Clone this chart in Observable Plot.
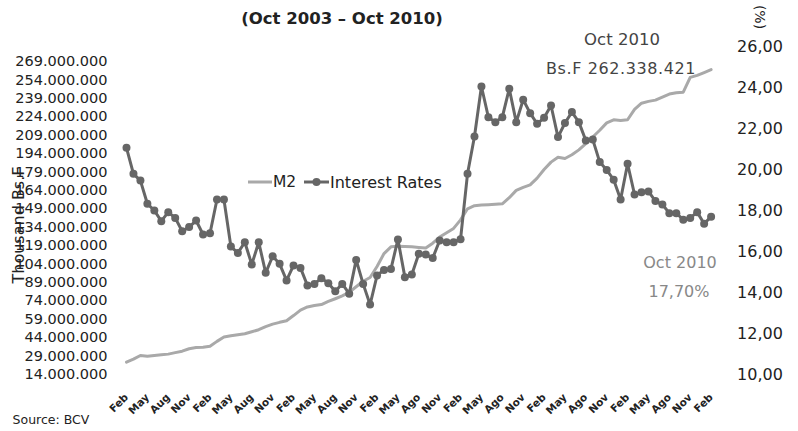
<!DOCTYPE html>
<html><head><meta charset="utf-8">
<script src="https://cdn.jsdelivr.net/npm/d3@7"></script>
<script src="https://cdn.jsdelivr.net/npm/@observablehq/plot@0.6"></script>
<style>
html,body{margin:0;padding:0;background:#fff;}
#chart{position:relative;width:798px;height:431px;overflow:hidden;font-family:"DejaVu Sans",sans-serif;color:#222;}
#chart svg.plot{position:absolute;left:0;top:0;}
.t{position:absolute;white-space:nowrap;line-height:1;}
</style></head><body>
<div id="chart"></div>
<script>
// Monthly data, Oct 2003 .. Oct 2010 (85 months)
// M2 in millions of thousand Bs.F
const m2Millions = [
  24.0, 26.5, 29.5, 28.8, 29.5, 30.0, 30.6, 31.8, 33.0, 35.0,
  36.0, 36.2, 37.0, 41.0, 44.5, 45.5, 46.3, 47.2, 48.8, 50.5,
  53.0, 55.0, 56.5, 57.8, 62.0, 66.5, 69.0, 70.2, 71.0, 73.5,
  75.7, 78.0, 81.0, 85.5, 90.0, 93.0, 102.0, 112.5, 118.0, 118.5,
  118.3, 118.0, 117.5, 117.0, 121.0, 126.0, 129.5, 133.0, 140.0, 149.0,
  151.5, 152.0, 152.3, 152.6, 153.0, 158.0, 164.0, 166.5, 168.5, 174.0,
  181.0, 187.0, 191.0, 190.0, 193.0, 197.0, 202.0, 207.5, 213.0, 219.0,
  221.5, 221.0, 221.5, 230.0, 235.0, 236.5, 237.5, 240.0, 242.5, 243.5,
  244.0, 256.0, 257.7, 260.0, 262.338421
];
// Interest rates (%)
const rates = [
  21.06, 19.79, 19.46, 18.33, 18.00, 17.48, 17.92, 17.64, 16.99, 17.19,
  17.51, 16.83, 16.89, 18.54, 18.54, 16.24, 15.93, 16.45, 15.37, 16.45,
  14.96, 15.77, 15.40, 14.59, 15.32, 15.20, 14.34, 14.42, 14.70, 14.45,
  14.06, 14.42, 13.94, 15.59, 14.42, 13.41, 14.83, 15.10, 15.15, 16.59,
  14.75, 14.88, 15.89, 15.85, 15.68, 16.54, 16.45, 16.45, 16.60, 19.79,
  21.61, 24.05, 22.55, 22.31, 22.55, 23.94, 22.31, 23.40, 22.75, 22.23,
  22.52, 23.12, 21.58, 22.27, 22.80, 22.31, 21.41, 21.46, 20.36, 19.98,
  19.50, 18.54, 20.28, 18.78, 18.89, 18.93, 18.46, 18.29, 17.87, 17.87,
  17.55, 17.64, 17.92, 17.35, 17.70
];
const xTickLabels = [
  "Feb","May","Aug","Nov","Feb","May","Aug","Nov","Feb","May","Aug","Nov",
  "Feb","May","Ago","Nov","Feb","May","Ago","Nov","Feb","May","Ago","Nov",
  "Feb","May","Ago","Nov","Feb"
];
const m2Ticks = [14e6, 29e6, 44e6, 59e6, 74e6, 89e6, 104e6, 119e6, 134e6, 149e6,
  164e6, 179e6, 194e6, 209e6, 224e6, 239e6, 254e6, 269e6];
const rateTicks = [10, 12, 14, 16, 18, 20, 22, 24, 26];

const rows = rates.map((r, i) => ({i, rate: r, m2: m2Millions[i] * 1e6}));
const xTickIdx = xTickLabels.map((_, k) => k * 3);

const loc = d3.formatLocale({decimal: ",", thousands: ".", grouping: [3], currency: ["", ""]});
const fmtM = loc.format(",.0f");
const fmtR = loc.format(".2f");

const common = {
  width: 798, height: 431,
  marginTop: 46, marginBottom: 57, marginLeft: 126, marginRight: 87.4,
  style: {background: "transparent", fontFamily: "DejaVu Sans, sans-serif", color: "#222", overflow: "visible"}
};

const p1 = Plot.plot({
  ...common,
  x: {domain: [0, 84], axis: null},
  y: {domain: [14e6, 281.2e6]},
  marks: [
    Plot.axisY({anchor: "left", ticks: m2Ticks, tickFormat: fmtM, tickSize: 0, tickPadding: 19, fontSize: 14.5, label: null}),
    Plot.line(rows, {x: "i", y: "m2", stroke: "#a9a9a9", strokeWidth: 3})
  ]
});
const p2 = Plot.plot({
  ...common,
  x: {domain: [0, 84]},
  y: {domain: [10, 26]},
  marks: [
    Plot.axisY({anchor: "right", ticks: rateTicks, tickFormat: fmtR, tickSize: 0, tickPadding: 26, fontSize: 16, label: null}),
    Plot.axisX({ticks: xTickIdx, tickFormat: i => xTickLabels[i / 3], tickRotate: -45, tickSize: 0, tickPadding: 21, fontSize: 10.5, fontWeight: "bold", label: null}),
    Plot.line(rows, {x: "i", y: "rate", stroke: "#666", strokeWidth: 3}),
    Plot.dot(rows, {x: "i", y: "rate", r: 4, fill: "#666"})
  ]
});
p1.classList.add("plot"); p2.classList.add("plot");
const chart = document.getElementById("chart");
chart.appendChild(p1);
chart.appendChild(p2);

function addText(txt, x, y, opts = {}) {
  const d = document.createElement("div");
  d.className = "t";
  d.textContent = txt;
  d.style.left = x + "px";
  d.style.top = y + "px";
  d.style.fontSize = (opts.size || 14) + "px";
  if (opts.weight) d.style.fontWeight = opts.weight;
  if (opts.color) d.style.color = opts.color;
  d.style.transform = `translate(-50%,-50%)` + (opts.rotate ? ` rotate(${opts.rotate}deg)` : "");
  if (opts.ls) d.style.letterSpacing = opts.ls + "px";
  chart.appendChild(d);
  return d;
}
addText("(Oct 2003 \u2013 Oct 2010)", 342, 19, {size: 16.5, weight: "bold"});
addText("(%)", 760, 17, {size: 14, rotate: 90});
addText("Oct 2010", 622, 40, {size: 16.5, color: "#444"});
addText("Bs.F 262.338.421", 621, 69, {size: 16, color: "#444", ls: 0.6});
addText("Oct 2010", 680, 263, {size: 16, color: "#888"});
addText("17,70%", 679, 292, {size: 16, color: "#888"});
addText("Thousand Bs.F", 19, 225, {size: 16, rotate: -90});
addText("Source: BCV", 51, 420, {size: 12.5});

// legend
const leg = d3.select(chart).append("svg")
  .attr("width", 798).attr("height", 431)
  .style("position", "absolute").style("left", 0).style("top", 0);
leg.append("line").attr("x1", 248).attr("x2", 272).attr("y1", 182).attr("y2", 182)
  .attr("stroke", "#a9a9a9").attr("stroke-width", 3);
leg.append("text").attr("x", 273).attr("y", 182).attr("dy", "0.35em")
  .attr("font-size", 15.5).attr("fill", "#222").text("M2");
leg.append("line").attr("x1", 304).attr("x2", 329).attr("y1", 182).attr("y2", 182)
  .attr("stroke", "#666").attr("stroke-width", 3);
leg.append("circle").attr("cx", 316.5).attr("cy", 182).attr("r", 4).attr("fill", "#666");
leg.append("text").attr("x", 330).attr("y", 182).attr("dy", "0.35em")
  .attr("font-size", 16).attr("fill", "#222").text("Interest Rates");
</script>
</body></html>
